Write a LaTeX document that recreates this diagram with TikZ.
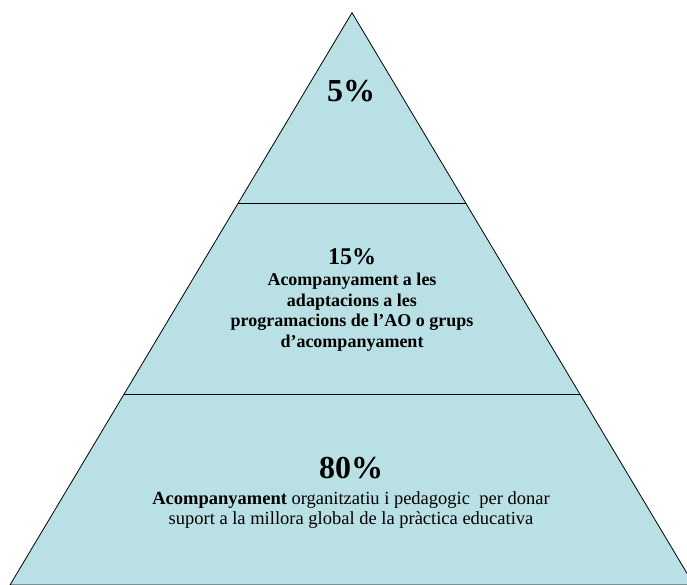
\documentclass[tikz,border=0pt]{standalone}
\usepackage{fontspec}
\setmainfont{Liberation Serif}
\usepackage{tikz}

\definecolor{pyrfill}{HTML}{B9E0E4}

\begin{document}
\begin{tikzpicture} [x=1pt, y=-1pt,
	level/.style = {draw, line width=0.8pt, fill=pyrfill, line join=miter},
	cut/.style = {draw, line width=0.8pt},
	big/.style = {font=\fontsize{32}{36}\selectfont\bfseries, inner sep=0pt},
	mid/.style = {font=\fontsize{24}{26}\selectfont\bfseries, inner sep=0pt},
	note/.style = {align=center, inner sep=0pt}]

	\useasboundingbox (0,0) rectangle (687,585);
	\clip (0,0) rectangle (687,585);

	\coordinate (apex) at (352,12.7);
	\coordinate (BL) at (10,585);
	\coordinate (BR) at (694,585);

	% the pyramid and its three levels
	\path [level] (apex) -- (BL) -- (BR) -- cycle;
	\coordinate (L1) at (barycentric cs:apex=2,BL=1);
	\coordinate (R1) at (barycentric cs:apex=2,BR=1);
	\coordinate (L2) at (barycentric cs:apex=1,BL=2);
	\coordinate (R2) at (barycentric cs:apex=1,BR=2);
	\path [cut] (L1) -- (R1);
	\path [cut] (L2) -- (R2);

	\node (top) at (351,91) [big] {5\%};

	\node (midpct) at (352,257) [mid] {15\%};
	\node (midtxt) at (352,312) [note, font=\fontsize{18}{20.5}\selectfont\bfseries]
		{Acompanyament a les\\adaptacions a les\\programacions de l’AO o grups\\d’acompanyament};

	\node (botpct) at (351,468) [big] {80\%};
	\node (bottxt) at (351,510) [note, font=\fontsize{18.5}{20}\selectfont]
		{\textbf{Acompanyament} organitzatiu i pedagogic\ \ per donar\\suport a la millora global de la pràctica educativa};

\end{tikzpicture}
\end{document}
